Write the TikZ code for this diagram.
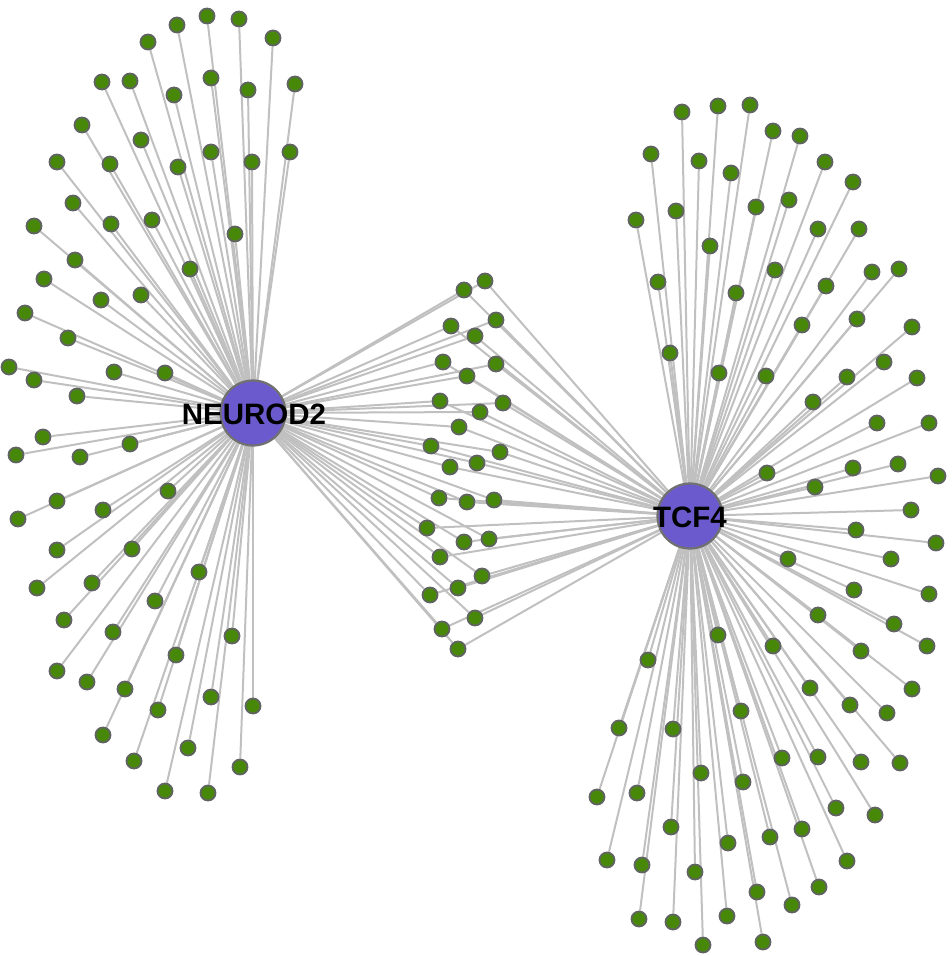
\documentclass[tikz,border=0pt]{standalone}
\usepackage{fontspec}
\setmainfont{Liberation Sans}
\usetikzlibrary{backgrounds}
\definecolor{edgegray}{RGB}{192,192,192}
\definecolor{leafgreen}{RGB}{72,136,8}
\definecolor{leafrim}{RGB}{96,100,96}
\definecolor{hubblue}{RGB}{106,90,205}
\definecolor{hubrim}{RGB}{112,112,112}
\begin{document}
\begin{tikzpicture}[x=1pt,y=-1pt,
    leaf/.style={circle,fill=leafgreen,draw=leafrim,line width=1.8pt,inner sep=0pt,minimum size=15pt},
    hub/.style={circle,fill=hubblue,draw=hubrim,line width=2.2pt,inner sep=0pt,minimum size=65pt},
    hublabel/.style={font=\fontsize{29.5}{29.5}\selectfont\bfseries,text=black,inner sep=0pt},
    edge/.style={draw=edgegray,line width=2pt}]
    \useasboundingbox (0,0) rectangle (952,956);
    % hubs
    \node[hub] (neurod) at (253,413) {};
    \node[hub] (tcf) at (690,516) {};
    % targets of NEUROD2 only
    \foreach \x/\y [count=\i] in {148/42, 177/25, 207/16, 239/19, 273/38, 102/82, 130/81, 174/95,
        211/78, 248/90, 295/84, 82/125, 141/140, 211/152, 252/162, 290/152, 57/162, 110/164,
        178/167, 73/203, 111/224, 152/220, 235/234, 34/226, 75/260, 190/269, 44/279, 101/300,
        141/295, 25/313, 68/338, 9/367, 34/380, 114/372, 165/373, 77/396, 43/437, 130/444,
        16/455, 80/457, 168/491, 57/501, 18/519, 103/510, 57/550, 132/549, 199/572, 37/588,
        92/583, 155/601, 64/620, 113/632, 232/636, 176/655, 57/671, 87/682, 125/689, 211/697,
        253/706, 158/710, 103/735, 188/748, 134/761, 240/767, 165/791, 208/793}
        \node[leaf] (l\i) at (\x,\y) {};
    % shared targets
    \foreach \x/\y [count=\i] in {464/290, 485/281, 451/326, 496/320, 475/336, 443/362, 496/364,
        467/376, 440/401, 503/403, 480/412, 459/427, 431/446, 500/452, 450/467, 477/463, 439/498,
        467/502, 494/500, 427/528, 464/542, 489/539, 440/557, 482/576, 458/588, 430/595, 475/618,
        442/629, 458/649}
        \node[leaf] (m\i) at (\x,\y) {};
    % targets of TCF4 only
    \foreach \x/\y [count=\i] in {682/112, 718/106, 750/105, 773/131, 800/136, 651/154, 699/161,
        731/173, 825/162, 853/182, 636/220, 676/211, 756/207, 789/200, 818/229, 859/229, 710/246,
        775/270, 872/272, 899/269, 658/282, 736/293, 826/286, 857/319, 802/325, 912/327, 884/362,
        670/353, 719/373, 766/376, 847/377, 917/378, 813/402, 877/423, 929/423, 767/473, 853/468,
        898/464, 815/487, 938/476, 911/510, 856/530, 936/543, 788/559, 891/559, 854/590, 929/594,
        818/615, 894/624, 927/646, 718/635, 773/646, 861/651, 648/660, 810/688, 912/689, 741/711,
        850/705, 887/713, 619/728, 673/729, 782/758, 818/757, 861/762, 900/763, 701/773, 743/782,
        597/797, 637/793, 836/808, 875/815, 671/827, 802/829, 770/837, 728/843, 607/860, 642/865,
        695/872, 847/861, 819/887, 757/892, 792/905, 639/919, 673/922, 727/916, 703/945, 763/942}
        \node[leaf] (r\i) at (\x,\y) {};
    % edges under the nodes
    \begin{pgfonlayer}{background}
        \foreach \i in {1,...,66} \draw[edge] (neurod.center) -- (l\i);
        \foreach \i in {1,...,29} {
            \draw[edge] (neurod.center) -- (m\i);
            \draw[edge] (tcf.center) -- (m\i);
        }
        \foreach \i in {1,...,87} \draw[edge] (tcf.center) -- (r\i);
    \end{pgfonlayer}
    % labels
    \node[hublabel] (neurodtext) at (254,414) {NEUROD2};
    \node[hublabel] (tcftext) at (690,517) {TCF4};
\end{tikzpicture}
\end{document}
